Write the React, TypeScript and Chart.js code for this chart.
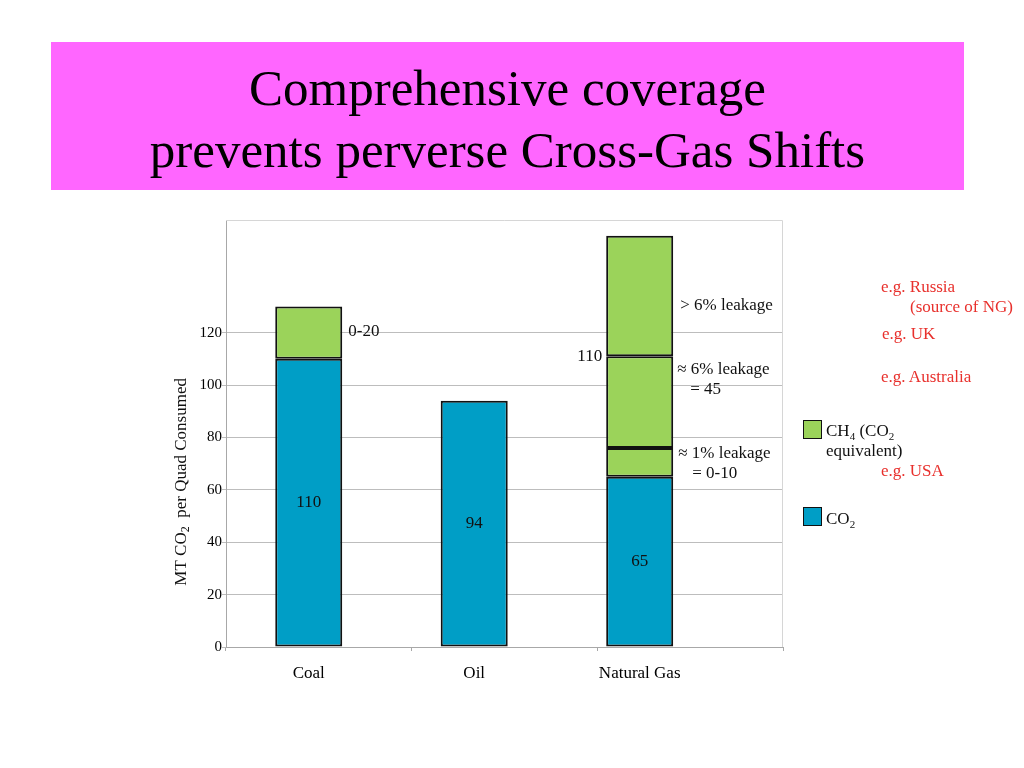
import React, { useEffect, useRef } from "react";
import { Chart, registerables } from "chart.js";

Chart.register(...registerables);

// ---- data ----
const categories = ["Coal", "Oil", "Natural Gas"];
const co2Values = [110, 94, 65];
const ch4Low = [20, null, 11]; // Coal 0-20 ; Natural Gas ≈1% leakage
const ch4Mid = [null, null, 35]; // Natural Gas ≈6% leakage
const ch4High = [null, null, 46]; // Natural Gas >6% leakage
const yTicks = [0, 20, 40, 60, 80, 100, 120];
const barLabels = ["110", "94", "65"];
const coalNote = "0-20";
const gasTotalLabel = "110";
const gasHighNote = ["> 6% leakage"];
const gasMidNote = ["≈ 6% leakage", "= 45"];
const gasLowNote = ["≈ 1% leakage", "= 0-10"];
const countryNotes = ["e.g. Russia", "(source of NG)", "e.g. UK", "e.g. Australia", "e.g. USA"];

const CO2_COLOR = "#009ec6";
const CH4_COLOR = "#9bd35a";
const SERIF = "'Liberation Serif', 'Times New Roman', serif";

const framePlugin = {
  id: "frameAndNotes",
  beforeDatasetsDraw(chart: any) {
    const { ctx, chartArea: a } = chart;
    ctx.save();
    ctx.strokeStyle = "#d6d6d6";
    ctx.lineWidth = 1;
    ctx.beginPath();
    ctx.moveTo(a.left, a.top + 0.5);
    ctx.lineTo(a.right - 0.5, a.top + 0.5);
    ctx.lineTo(a.right - 0.5, a.bottom);
    ctx.stroke();
    ctx.restore();
  },
  afterDatasetsDraw(chart: any) {
    const { ctx } = chart;
    const y = chart.scales.y;
    ctx.save();
    ctx.fillStyle = "#111";
    ctx.font = `17px ${SERIF}`;
    ctx.textBaseline = "middle";

    // labels inside CO2 bars
    const co2 = chart.getDatasetMeta(0).data;
    ctx.textAlign = "center";
    co2.forEach((el: any, i: number) => {
      ctx.fillText(barLabels[i], el.x, (el.y + el.base) / 2);
    });

    const low = chart.getDatasetMeta(1).data;
    const mid = chart.getDatasetMeta(2).data;
    const high = chart.getDatasetMeta(3).data;

    ctx.textAlign = "left";
    // coal CH4 note
    const c = low[0];
    ctx.fillText(coalNote, c.x + c.width / 2 + 6, (c.y + c.base) / 2 - 1);

    // natural gas notes
    const gh = high[2];
    const right = gh.x + gh.width / 2;
    ctx.fillText(gasHighNote[0], right + 7, gh.base - 51);
    const gm = mid[2];
    ctx.fillText(gasMidNote[0], right + 4, gm.y + 13);
    ctx.fillText(gasMidNote[1], right + 17, gm.y + 33);
    const gl = low[2];
    ctx.fillText(gasLowNote[0], right + 5, gl.y + 6);
    ctx.fillText(gasLowNote[1], right + 19, gl.y + 26);

    ctx.textAlign = "right";
    ctx.fillText(gasTotalLabel, gm.x - gm.width / 2 - 4, gm.y);

    // y axis title with subscript
    const cy = (y.getPixelForValue(yTicks[0]) + y.getPixelForValue(yTicks[yTicks.length - 1])) / 2 - 8;
    ctx.translate(182, cy);
    ctx.rotate(-Math.PI / 2);
    const p1 = "MT CO";
    const p2 = "2";
    const p3 = "  per Quad Consumed";
    ctx.font = `17px ${SERIF}`;
    const w1 = ctx.measureText(p1).width;
    const w3 = ctx.measureText(p3).width;
    ctx.font = `12px ${SERIF}`;
    const w2 = ctx.measureText(p2).width;
    const total = w1 + w2 + w3;
    let x = -total / 2;
    ctx.textAlign = "left";
    ctx.font = `17px ${SERIF}`;
    ctx.fillText(p1, x, 0);
    x += w1;
    ctx.font = `12px ${SERIF}`;
    ctx.fillText(p2, x, 4);
    x += w2;
    ctx.font = `17px ${SERIF}`;
    ctx.fillText(p3, x, 0);
    ctx.restore();
  },
};

function toPoints(values: (number | null)[]) {
  return values.map((v, i) => ({ x: i, y: v }));
}

export default function App() {
  const canvasRef = useRef<HTMLCanvasElement | null>(null);

  useEffect(() => {
    if (!canvasRef.current) return;
    const barStyle = {
      borderColor: "#111",
      borderWidth: 2,
      borderSkipped: false as any,
      xAxisID: "xb",
      barPercentage: 0.405,
      categoryPercentage: 1,
    };
    const chart = new Chart(canvasRef.current, {
      type: "bar",
      data: {
        datasets: [
          { label: "CO2", data: toPoints(co2Values) as any, backgroundColor: CO2_COLOR, ...barStyle },
          { label: "CH4 low", data: toPoints(ch4Low) as any, backgroundColor: CH4_COLOR, ...barStyle },
          { label: "CH4 mid", data: toPoints(ch4Mid) as any, backgroundColor: CH4_COLOR, ...barStyle },
          { label: "CH4 high", data: toPoints(ch4High) as any, backgroundColor: CH4_COLOR, ...barStyle },
        ],
      },
      options: {
        animation: false,
        responsive: false,
        devicePixelRatio: window.devicePixelRatio || 1,
        layout: { padding: { top: 220, left: 0, right: 241, bottom: 0 } },
        plugins: { legend: { display: false }, tooltip: { enabled: false } },
        scales: {
          y: {
            type: "linear",
            stacked: true,
            min: 0,
            max: 163,
            afterBuildTicks: (s: any) => {
              s.ticks = yTicks.map((v) => ({ value: v }));
            },
            afterFit: (s: any) => {
              s.width = 226;
            },
            grid: { color: "#bdbdbd", tickLength: 4, lineWidth: 1 },
            border: { color: "#a8a8a8" },
            ticks: { padding: 0, color: "#000", font: { family: SERIF, size: 15 } },
          },
          x: {
            type: "category",
            labels: categories,
            position: "bottom",
            offset: true,
            weight: 0,
            grid: { offset: true, drawOnChartArea: false, drawTicks: true, tickLength: 4, color: "#a8a8a8" },
            border: { color: "#a8a8a8" },
            ticks: { display: false },
            afterFit: (s: any) => {
              s.height = 4;
            },
          },
          xb: {
            type: "linear",
            position: "bottom",
            stacked: true,
            offset: false,
            weight: 1,
            min: -0.5,
            max: 2.866,
            afterBuildTicks: (s: any) => {
              s.ticks = categories.map((_, i) => ({ value: i }));
            },
            afterFit: (s: any) => {
              s.height = 117;
            },
            grid: { display: false, drawTicks: false },
            border: { display: false },
            ticks: {
              padding: 12,
              color: "#000",
              font: { family: SERIF, size: 17 },
              callback: (v: any) => categories[v as number] ?? "",
            },
          },
        },
      },
      plugins: [framePlugin],
    });
    return () => chart.destroy();
  }, []);

  const noteStyle = (left: number, cy: number): React.CSSProperties => ({
    position: "absolute",
    left,
    top: cy - 10,
    lineHeight: "20px",
    fontSize: 17,
    color: "#e8302c",
    fontFamily: SERIF,
    whiteSpace: "nowrap",
  });
  const legText: React.CSSProperties = {
    position: "absolute",
    fontFamily: SERIF,
    fontSize: 17,
    lineHeight: "20px",
    color: "#111",
    whiteSpace: "nowrap",
  };
  const sub: React.CSSProperties = { fontSize: 11, verticalAlign: "-4px", lineHeight: 0 };
  const box = (top: number, color: string): React.CSSProperties => ({
    position: "absolute",
    left: 803,
    top,
    width: 17,
    height: 17,
    background: color,
    border: "1.5px solid #111",
  });

  return (
    <div style={{ position: "absolute", left: 0, top: 0, width: 1024, height: 768, background: "#fff", overflow: "hidden" }}>
      <div
        style={{
          position: "absolute",
          left: 51,
          top: 42,
          width: 913,
          height: 148,
          background: "#ff66ff",
          boxSizing: "border-box",
          paddingTop: 15,
          textAlign: "center",
          fontFamily: SERIF,
          fontSize: 51,
          lineHeight: "62px",
          color: "#000",
        }}
      >
        Comprehensive coverage
        <br />
        prevents perverse Cross-Gas Shifts
      </div>
      <canvas ref={canvasRef} width={1024} height={768} style={{ position: "absolute", left: 0, top: 0, width: 1024, height: 768 }} />
      <div style={noteStyle(881, 287)}>{countryNotes[0]}</div>
      <div style={noteStyle(910, 307)}>{countryNotes[1]}</div>
      <div style={noteStyle(882, 334)}>{countryNotes[2]}</div>
      <div style={noteStyle(881, 377)}>{countryNotes[3]}</div>
      <div style={noteStyle(881, 471)}>{countryNotes[4]}</div>
      <div style={box(420, CH4_COLOR)} />
      <div style={{ ...legText, left: 826, top: 421 }}>
        CH<sub style={sub}>4</sub> (CO<sub style={sub}>2</sub>
        <br />
        equivalent)
      </div>
      <div style={box(507, CO2_COLOR)} />
      <div style={{ ...legText, left: 826, top: 509 }}>
        CO<sub style={sub}>2</sub>
      </div>
    </div>
  );
}
